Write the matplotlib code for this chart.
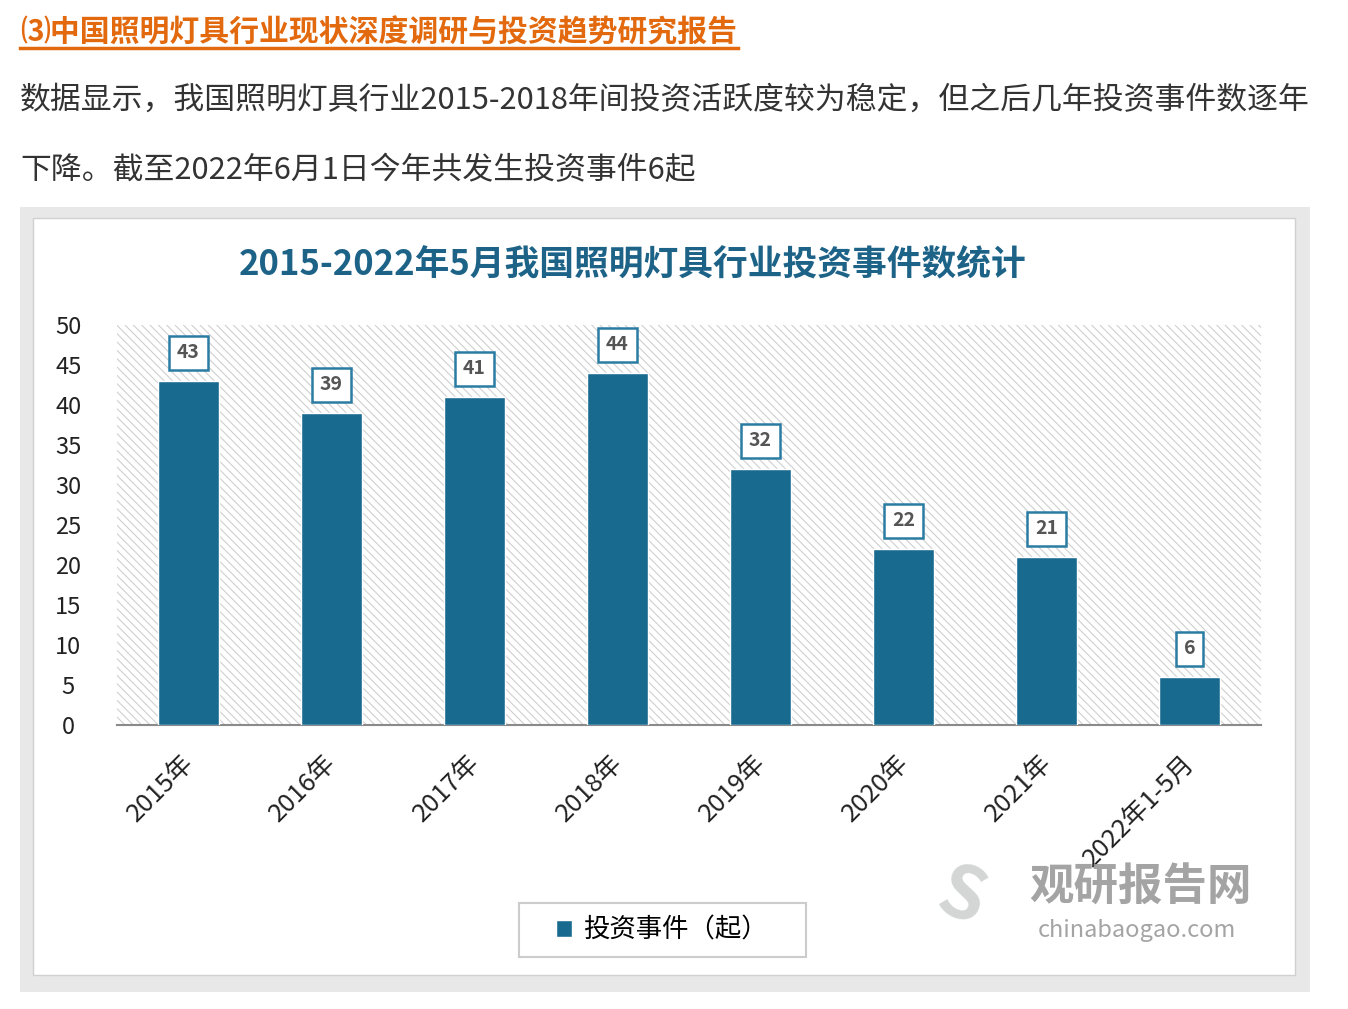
import matplotlib.pyplot as plt
from matplotlib.patches import Rectangle
import matplotlib.transforms as mtrans
import numpy as np

plt.rcParams['font.family'] = ['Noto Sans CJK SC', 'DejaVu Sans']
plt.rcParams['hatch.linewidth'] = 0.8

categories = ['2015年', '2016年', '2017年', '2018年', '2019年', '2020年', '2021年', '2022年1-5月']
events = [43, 39, 41, 44, 32, 22, 21, 6]
y_ticks = [0, 5, 10, 15, 20, 25, 30, 35, 40, 45, 50]

header = '⑶中国照明灯具行业现状深度调研与投资趋势研究报告'
para1 = '数据显示，我国照明灯具行业2015-2018年间投资活跃度较为稳定，但之后几年投资事件数逐年'
para2 = '下降。截至2022年6月1日今年共发生投资事件6起'
title = '2015-2022年5月我国照明灯具行业投资事件数统计'
legend_label = '投资事件（起）'

W, H = 1348, 1009
fig = plt.figure(figsize=(W / 100, H / 100), dpi=100)
fig.patch.set_facecolor('white')

def fx(px):
    return px / W

def fy(py):
    return 1 - py / H

# header + paragraph
fig.text(fx(20), fy(33), header, fontsize=21.5, fontweight='bold', color='#e2690e',
         va='center', ha='left')
fig.add_artist(plt.Line2D([fx(20), fx(738)], [fy(48), fy(48)], color='#e2690e', lw=2.5))
fig.text(fx(20), fy(100), para1, fontsize=22.2, color='#333333', va='center', ha='left')
fig.text(fx(20), fy(170), para2, fontsize=22.2, color='#333333', va='center', ha='left')

# card with shadow
fig.add_artist(Rectangle((fx(20), fy(992)), fx(1290), 785 / H, transform=fig.transFigure,
                         facecolor='#e8e8e8', edgecolor='none', zorder=0))
fig.add_artist(Rectangle((fx(33), fy(975)), fx(1262), 757 / H, transform=fig.transFigure,
                         facecolor='white', edgecolor='#d0d0d0', lw=1, zorder=0))

fig.text(fx(633), fy(265), title, fontsize=25, fontweight='bold', color='#1d6388',
         ha='center', va='center')

ax = fig.add_axes([fx(117), fy(725), fx(1261 - 117), (725 - 325) / H])
x = np.arange(len(categories))
ax.set_xlim(-0.5, len(categories) - 0.5)
ax.set_ylim(0, 50)
ax.add_patch(Rectangle((0, 0), 1, 1, transform=ax.transAxes, facecolor='white',
                       edgecolor='#cfcfcf', hatch='\\\\\\\\', lw=0, zorder=0))

bars = ax.bar(x, events, width=0.43, color='#186a8f', edgecolor='white', lw=1, zorder=3)
for xi, v in zip(x, events):
    ax.text(xi, v + 3.5, str(v), ha='center', va='center', fontsize=14, fontweight='bold',
            color='#555555', zorder=4,
            bbox=dict(boxstyle='square,pad=0.4', facecolor='white', edgecolor='#2a7ca3', lw=1.8))

for s in ['top', 'right', 'left']:
    ax.spines[s].set_visible(False)
ax.spines['bottom'].set_color('#8a8a8a')
ax.spines['bottom'].set_linewidth(1.5)
ax.set_yticks(y_ticks)
ax.set_yticklabels([str(t) for t in y_ticks], fontsize=17, color='#222222')
ax.tick_params(axis='y', length=0, pad=35)
ax.tick_params(axis='x', length=0, pad=18)
ax.set_xticks(x)
ax.set_xticklabels(categories, rotation=45, ha='right', va='top', rotation_mode='anchor',
                   fontsize=18.5, color='#222222')
shift = mtrans.ScaledTranslation(-8 / 100, 0, fig.dpi_scale_trans)
for lab in ax.get_xticklabels():
    lab.set_transform(lab.get_transform() + shift)
for lab in ax.get_yticklabels():
    lab.set_horizontalalignment('center')

# legend with hand-drawn frame
fig.add_artist(Rectangle((fx(519), fy(957)), fx(806 - 519), 54 / H, transform=fig.transFigure,
                         facecolor='white', edgecolor='#cccccc', lw=1.5, zorder=1))
leg = fig.legend([bars], [legend_label], loc='center', bbox_to_anchor=(fx(662), fy(930)),
                 fontsize=19, frameon=False, handlelength=0.6, handleheight=0.6,
                 borderpad=0, borderaxespad=0, handletextpad=0.4)
leg.set_zorder(2)

# watermark
fig.text(fx(1140), fy(888), '观研报告网', fontsize=32, fontweight='bold', color='#9a9a9a',
         ha='center', va='center', alpha=0.9)
fig.text(fx(1137), fy(930), 'chinabaogao.com', fontsize=17, color='#9a9a9a',
         ha='center', va='center', alpha=0.9)
fig.text(fx(962), fy(898), 'S', fontsize=52, fontweight='bold', color='#c9cbcb',
         ha='center', va='center', rotation=-20, alpha=0.8)

fig.savefig('out.png', dpi=100)
